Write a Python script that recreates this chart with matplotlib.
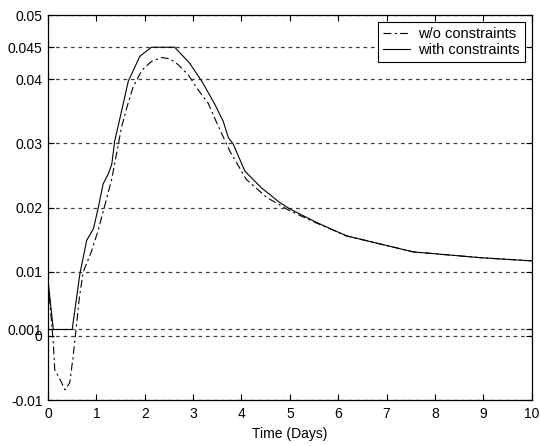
import matplotlib
matplotlib.use('Agg')
import matplotlib.pyplot as plt

plt.rcParams['font.family'] = ['Liberation Sans', 'DejaVu Sans']

# with constraints (solid)
t_con = [0, 0.11, 0.5, 0.66, 0.8, 0.94, 1.04, 1.14, 1.25, 1.32, 1.38, 1.52, 1.66,
         1.9, 2.14, 2.62, 2.93, 3.18, 3.45, 3.62, 3.73, 3.83, 4.07, 4.41, 4.79,
         5.0, 5.55, 6.17, 7.55, 8.93, 10.0]
y_con = [0.0087, 0.001, 0.001, 0.0097, 0.0149, 0.0167, 0.020, 0.0237, 0.0253, 0.0268,
         0.0304, 0.035, 0.0397, 0.0436, 0.045, 0.045, 0.0425, 0.0397, 0.0361, 0.0335,
         0.0309, 0.0299, 0.0257, 0.0231, 0.0208, 0.0198, 0.0177, 0.0156, 0.0131,
         0.0122, 0.0117]

# without constraints (dash-dot)
t_free = [0, 0.11, 0.14, 0.25, 0.35, 0.45, 0.52, 0.58, 0.65, 0.73, 0.9, 1.04, 1.18,
          1.32, 1.42, 1.52, 1.63, 1.76, 1.94, 2.14, 2.35, 2.52, 2.69, 2.9, 3.1, 3.31,
          3.52, 3.76, 4.1, 4.52, 5.0, 5.55, 6.17, 7.55, 8.93, 10.0]
y_free = [0.0087, -0.0011, -0.0053, -0.0068, -0.0084, -0.0073, -0.0032, 0.001, 0.0061,
          0.0100, 0.0132, 0.0165, 0.0205, 0.0245, 0.0285, 0.0325, 0.0356, 0.0388,
          0.0414, 0.0428, 0.0434, 0.0432, 0.0423, 0.0407, 0.0384, 0.0363, 0.0327,
          0.0288, 0.0244, 0.0216, 0.0195, 0.0176, 0.0156, 0.0131, 0.0122, 0.0117]

yticks = [-0.01, 0, 0.001, 0.01, 0.02, 0.03, 0.04, 0.045, 0.05]
yticklabels = ['-0.01', '0', '0.001', '0.01', '0.02', '0.03', '0.04', '0.045', '0.05']

fig = plt.figure(figsize=(5.41, 4.46), dpi=100)
ax = fig.add_axes([0.0887, 0.103, 0.894, 0.863])

ax.plot(t_free, y_free, color='black', lw=0.8, dashes=(7, 3, 2, 3),
        label='w/o constraints')
ax.plot(t_con, y_con, color='black', lw=0.8, label='with constraints')

ax.set_xlim(0, 10)
ax.set_ylim(-0.01, 0.05)
ax.set_xticks(range(11))
ax.set_yticks(yticks)
ax.set_yticklabels(yticklabels)
ax.yaxis.grid(True, color='#404040', linestyle=(0, (3, 3)), lw=0.9)
ax.tick_params(direction='in', top=True, right=True, labelsize=10, length=4)
ax.tick_params(axis='x', pad=5)
ax.tick_params(axis='y', pad=4)
for s in ax.spines.values():
    s.set_linewidth(0.9)
ax.set_xlabel('Time (Days)', fontsize=10, labelpad=4)

leg = ax.legend(loc='upper right', fontsize=10.5, fancybox=False, framealpha=1,
                edgecolor='black', handlelength=1.8, handletextpad=0.6,
                bbox_to_anchor=(0.986, 0.982), borderaxespad=0,
                borderpad=0.35, labelspacing=0.15)
leg.get_frame().set_linewidth(0.8)

fig.savefig('out.png', dpi=100)
